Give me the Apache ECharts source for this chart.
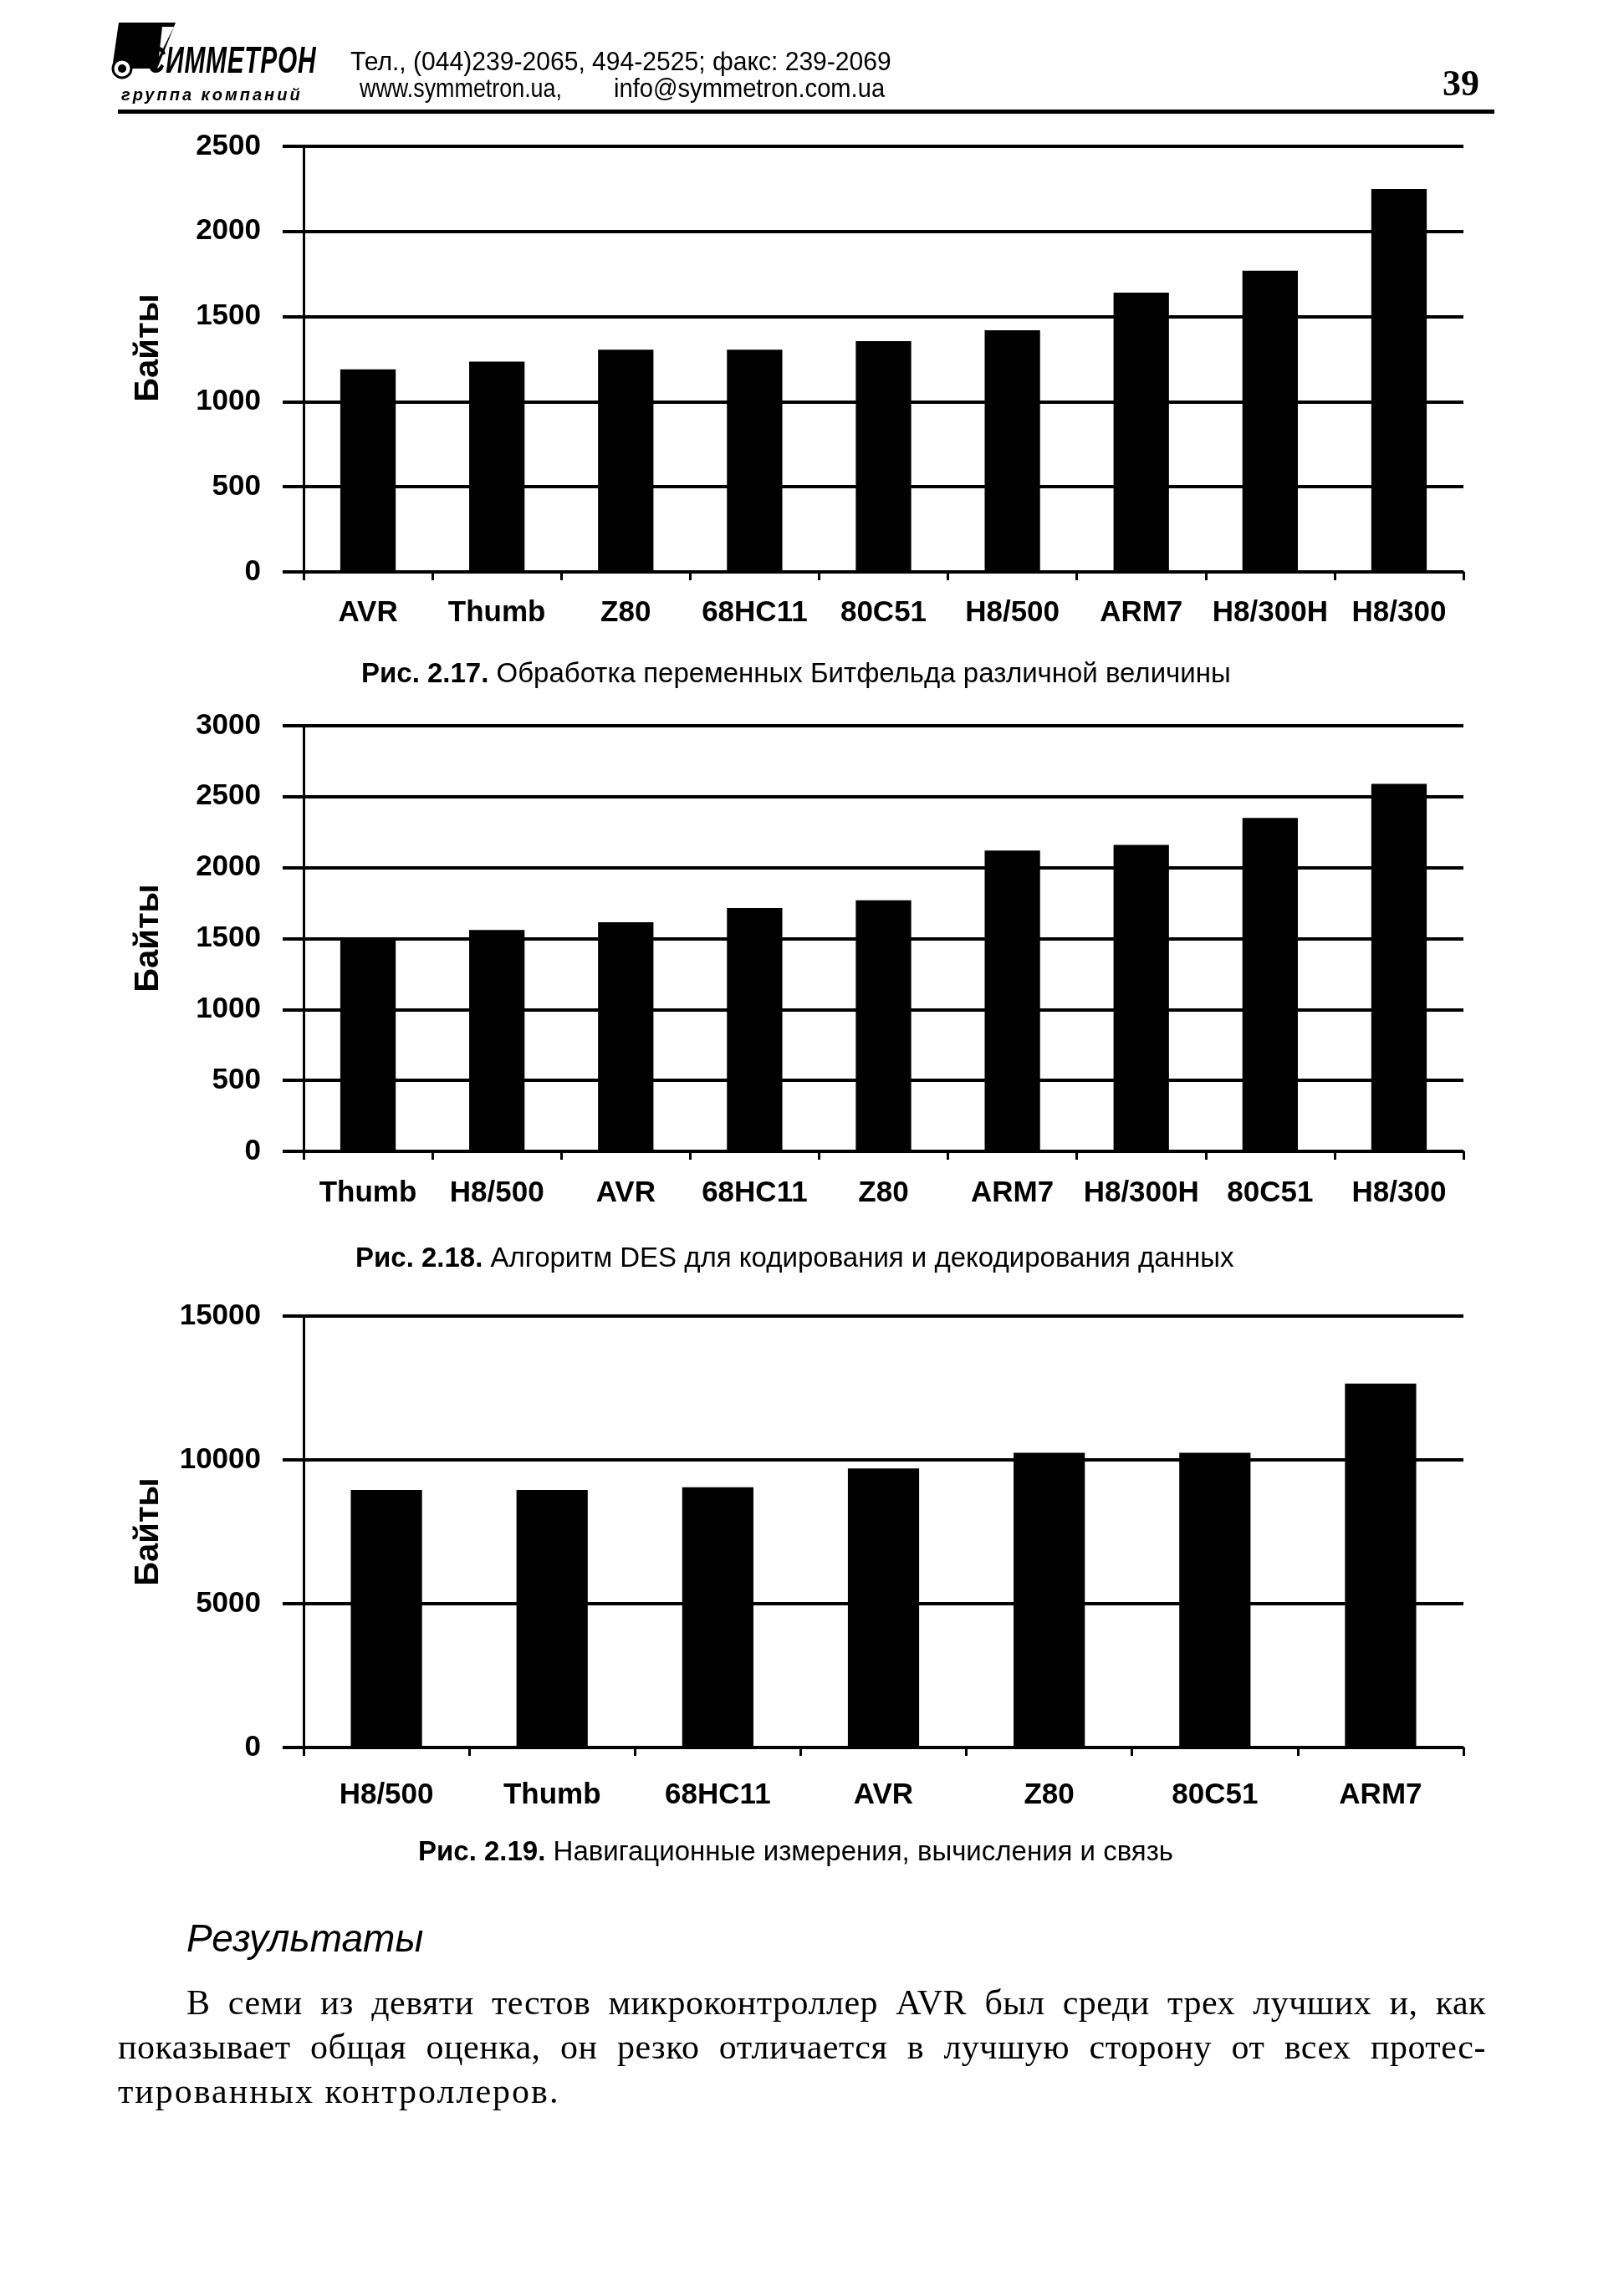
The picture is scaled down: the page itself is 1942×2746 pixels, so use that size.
<!DOCTYPE html>
<html>
<head>
<meta charset="utf-8">
<script src="https://cdn.jsdelivr.net/npm/echarts@6.0.0/dist/echarts.min.js"></script>
<style>
html,body{margin:0;padding:0;background:#fff;}
#page{position:relative;width:1942px;height:2746px;overflow:hidden;background:#fff;}
#chart{position:absolute;left:0;top:0;width:1942px;height:2746px;}
.t{position:absolute;white-space:nowrap;color:#000;}
.para{position:absolute;left:141px;top:2369px;width:1636px;font-family:'Liberation Serif','Times New Roman',serif;font-size:42px;line-height:53px;color:#000;letter-spacing:0.5px;}
.para div{text-align:justify;text-align-last:justify;}
.para div.last{text-align:left;text-align-last:left;letter-spacing:2px;}
</style>
</head>
<body>
<div id="page">
  <div id="chart"></div>

  <!-- header -->
  <svg class="t" style="left:130px;top:20px;" width="90" height="80" viewBox="0 0 90 80">
    <polygon points="12,7 80,7 58,62 4,62" fill="#000"/>
    <polygon points="64,12 78,12 60,48" fill="#fff"/>
    <circle cx="16" cy="62" r="11" fill="#fff" stroke="#000" stroke-width="3"/>
    <circle cx="16" cy="62" r="5" fill="#000"/>
  </svg>
  <div class="t" style="left:176px;top:50px;font-family:'Liberation Sans',Arial,sans-serif;font-weight:bold;font-style:italic;font-size:44px;line-height:44px;text-transform:uppercase;transform:scaleX(0.68);transform-origin:left center;letter-spacing:1px;">Симметрон</div>
  <div class="t" style="left:145px;top:103px;font-family:'Liberation Sans',Arial,sans-serif;font-weight:bold;font-style:italic;font-size:20px;line-height:20px;letter-spacing:3px;">группа компаний</div>
  <div class="t" style="left:419px;top:57px;font-family:'Liberation Sans',Arial,sans-serif;font-size:32px;line-height:32px;transform:scaleX(0.94);transform-origin:left center;">Тел., (044)239-2065, 494-2525; факс: 239-2069</div>
  <div class="t" style="left:430px;top:89px;font-family:'Liberation Sans',Arial,sans-serif;font-size:32px;line-height:32px;transform:scaleX(0.84);transform-origin:left center;">www.symmetron.ua,</div>
  <div class="t" style="left:734px;top:89px;font-family:'Liberation Sans',Arial,sans-serif;font-size:32px;line-height:32px;transform:scaleX(0.91);transform-origin:left center;">info@symmetron.com.ua</div>
  <div class="t" style="left:1725px;top:78px;font-family:'Liberation Serif','Times New Roman',serif;font-weight:bold;font-size:44px;line-height:44px;">39</div>
  <div class="t" style="left:141px;top:131px;width:1646px;height:5px;background:#000;"></div>

  <!-- results text -->
  <div class="t" style="left:223px;top:2295px;font-family:'Liberation Sans',Arial,sans-serif;font-style:italic;font-size:46px;line-height:46px;">Результаты</div>
  <div class="para">
    <div style="padding-left:82px;">В семи из девяти тестов микроконтроллер AVR был среди трех лучших и, как</div>
    <div>показывает общая оценка, он резко отличается в лучшую сторону от всех протес-</div>
    <div class="last">тированных контроллеров.</div>
  </div>
</div>

<script>
// ---- data ----
const cats1 = ['AVR', 'Thumb', 'Z80', '68HC11', '80C51', 'H8/500', 'ARM7', 'H8/300H', 'H8/300'];
const vals1 = [1190, 1235, 1305, 1305, 1355, 1420, 1640, 1770, 2250];
const yMax1 = 2500, yStep1 = 500;

const cats2 = ['Thumb', 'H8/500', 'AVR', '68HC11', 'Z80', 'ARM7', 'H8/300H', '80C51', 'H8/300'];
const vals2 = [1490, 1560, 1615, 1715, 1770, 2120, 2160, 2350, 2590];
const yMax2 = 3000, yStep2 = 500;

const cats3 = ['H8/500', 'Thumb', '68HC11', 'AVR', 'Z80', '80C51', 'ARM7'];
const vals3 = [8950, 8950, 9050, 9700, 10250, 10250, 12650];
const yMax3 = 15000, yStep3 = 5000;

const yName = 'Байты';
const capNums = ['Рис. 2.17.', 'Рис. 2.18.', 'Рис. 2.19.'];
const capTexts = [
  'Обработка переменных Битфельда различной величины',
  'Алгоритм DES для кодирования и декодирования данных',
  'Навигационные измерения, вычисления и связь'
];

// ---- chart ----
const FONT = "'Liberation Sans', Arial, sans-serif";
const chart = echarts.init(document.getElementById('chart'), null, {renderer: 'canvas'});

const grids = [
  {left: 363, right: 192, top: 175, height: 509},
  {left: 363, right: 192, top: 868, height: 509},
  {left: 363, right: 192, top: 1574, height: 516}
];
const labelMargins = [32, 33, 40];

function xAx(idx, data) {
  return {
    type: 'category', gridIndex: idx, data: data, boundaryGap: true,
    axisLine: {show: true, lineStyle: {color: '#000', width: 3}},
    axisTick: {show: true, length: 10, lineStyle: {color: '#000', width: 3}},
    axisLabel: {color: '#000', fontSize: 35, fontWeight: 'bold', fontFamily: FONT, margin: labelMargins[idx], interval: 0},
    splitLine: {show: false}
  };
}
function yAx(idx, max, step) {
  return {
    type: 'value', gridIndex: idx, min: 0, max: max, interval: step,
    axisLine: {show: true, lineStyle: {color: '#000', width: 3}},
    axisTick: {show: true, length: 25, lineStyle: {color: '#000', width: 4}},
    axisLabel: {color: '#000', fontSize: 35, fontWeight: 'bold', fontFamily: FONT, margin: 51,
      formatter: function (v) { return String(v); }},
    splitLine: {show: true, lineStyle: {color: '#000', width: 4}}
  };
}
function bar(idx, data) {
  return {
    type: 'bar', xAxisIndex: idx, yAxisIndex: idx, data: data,
    barWidth: '43%', itemStyle: {color: '#000'}, silent: true, animation: false
  };
}

const nameY = [416, 1122, 1832];
const capPos = [[432, 807], [425, 1506], [500, 2216]];
const graphics = [];
nameY.forEach(function (y) {
  graphics.push({
    type: 'text', x: 178, y: y, rotation: Math.PI / 2,
    style: {text: yName, fill: '#000', font: "bold 40px 'Liberation Sans', Arial, sans-serif",
      align: 'center', verticalAlign: 'middle', textAlign: 'center', textVerticalAlign: 'middle'}
  });
});
capPos.forEach(function (p, i) {
  graphics.push({
    type: 'text', x: p[0], y: p[1],
    style: {
      text: '{b|' + capNums[i] + '} ' + capTexts[i],
      fill: '#000', fontSize: 33, fontFamily: FONT,
      rich: {b: {fontSize: 33, fontWeight: 'bold', fontFamily: FONT, fill: '#000', color: '#000'}},
      align: 'left', verticalAlign: 'middle', textAlign: 'left', textVerticalAlign: 'middle'
    }
  });
});

chart.setOption({
  animation: false,
  backgroundColor: 'transparent',
  grid: grids,
  xAxis: [xAx(0, cats1), xAx(1, cats2), xAx(2, cats3)],
  yAxis: [yAx(0, yMax1, yStep1), yAx(1, yMax2, yStep2), yAx(2, yMax3, yStep3)],
  series: [bar(0, vals1), bar(1, vals2), bar(2, vals3)],
  graphic: graphics
});
</script>
</body>
</html>
